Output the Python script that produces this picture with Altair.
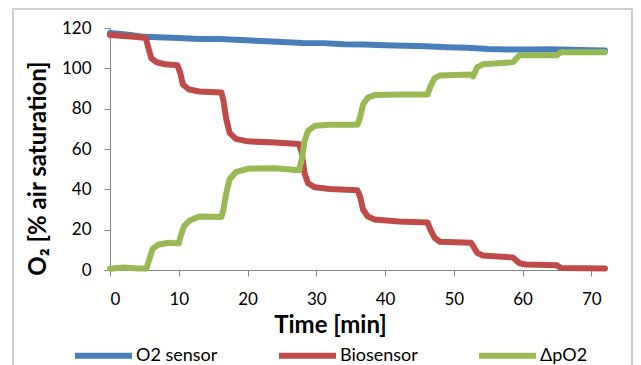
import altair as alt
import pandas as pd

# O2 sensor (blue)
o2_t = [0, 1.5, 3, 5, 8, 10, 13, 16, 19, 22, 25, 28, 31, 34, 37, 40, 43, 46, 49, 52, 55, 58, 61, 64, 67, 70, 72]
o2_v = [117.5, 117, 116.5, 115.6, 115.3, 115, 114.6, 114.5, 114, 113.5, 113, 112.6, 112.5, 112, 111.8, 111.5,
        111.2, 111, 110.5, 110.2, 109.6, 109.3, 109.4, 109.5, 109.2, 109, 108.8]

# Biosensor (red)
bio_t = [0, 2, 4, 5.2, 5.6, 6.0, 6.8, 8, 9.8, 10.2, 10.6, 11.5, 13, 16.2, 16.5, 16.9, 17.4, 18.3, 20, 24, 27.5,
         27.9, 28.3, 28.8, 29.8, 32, 36, 36.4, 36.8, 37.5, 38.5, 42, 46.2, 46.6, 47.2, 48, 52.5, 52.8, 53.4, 54.2,
         58.6, 59, 59.6, 60.5, 65, 65.6, 72]
bio_v = [116.5, 116, 115.5, 115, 110, 105, 103, 102, 101.5, 98, 92, 89.5, 88.5, 88, 84, 75, 68, 65, 63.8, 63.2, 62.5,
         58, 48, 43, 41, 40.2, 39.5, 36, 30, 26.5, 25, 24, 23.5, 20, 16, 14, 13.5, 12, 8.5, 7.2,
         6.2, 5, 3.3, 2.7, 2.3, 1, 0.8]

# Delta pO2 (green)
dp_t = [0, 2, 4, 5.3, 5.7, 6.2, 7, 8.5, 10, 10.3, 10.8, 11.6, 13, 16.2, 16.5, 16.9, 17.4, 18.3, 20, 24, 27.5,
        27.9, 28.3, 28.8, 29.8, 32, 36, 36.4, 36.8, 37.5, 38.5, 42, 46.2, 46.6, 47.2, 48, 52.5, 52.8, 53.4, 54.2,
        58.6, 59, 59.6, 60.5, 65, 65.6, 72]
dp_v = [0.6, 1.2, 0.8, 0.8, 5, 10.5, 12.5, 13.5, 13.2, 17, 22, 24.5, 26.5, 26.3, 30, 38, 45, 48.5, 50.2, 50.5, 49.5,
        55, 64, 69, 71.5, 72, 72, 76, 82, 85.5, 86.8, 87, 87, 91, 95, 96.5, 97, 96, 100.5, 102,
        103, 104.5, 106.5, 106.5, 106.5, 108, 108]

series = ["O2 sensor", "Biosensor", "ΔpO2"]
colors = ["#4A7EBB", "#BE4B48", "#98B954"]
x_ticks = [0, 10, 20, 30, 40, 50, 60, 70]
y_ticks = [0, 20, 40, 60, 80, 100, 120]

rows = []
for name, ts, vs in zip(series, [o2_t, bio_t, dp_t], [o2_v, bio_v, dp_v]):
    for i, (t, v) in enumerate(zip(ts, vs)):
        rows.append({"series": name, "t": t, "v": v, "i": i})
df = pd.DataFrame(rows)

FONT = "Lato"
AX = "#868686"

lines = alt.Chart(df).mark_line(strokeWidth=6, strokeCap="round", strokeJoin="round").encode(
    x=alt.X("t:Q", scale=alt.Scale(domain=[0, 72], nice=False),
            axis=alt.Axis(values=x_ticks, grid=False, domainColor=AX, tickColor=AX, tickSize=6,
                          labelFont=FONT, labelFontSize=17, labelColor="black", labelPadding=15,
                          title="Time [min]", titleFont=FONT, titleFontSize=24, titleFontWeight="bold",
                          titleColor="black", titleX=220, titleY=55, titleBaseline="middle")),
    y=alt.Y("v:Q", scale=alt.Scale(domain=[0, 120], nice=False),
            axis=alt.Axis(values=y_ticks, grid=False, domainColor=AX, tickColor=AX, tickSize=6,
                          labelFont=FONT, labelFontSize=17, labelColor="black", labelPadding=13,
                          title="O₂ [% air saturation]", titleFont=FONT, titleFontSize=24,
                          titleFontWeight="bold", titleColor="black", titleAngle=270,
                          titleX=-72, titleY=140, titleAlign="center", titleBaseline="middle")),
    color=alt.Color("series:N", scale=alt.Scale(domain=series, range=colors),
                    legend=alt.Legend(title=None, orient="none", direction="horizontal",
                                      legendX=-38, legendY=296, symbolType="stroke",
                                      symbolSize=3249, symbolStrokeWidth=6, labelFont=FONT,
                                      labelFontSize=18, labelColor="black", labelOffset=1,
                                      columnPadding=49)),
    order=alt.Order("i:Q"),
    detail="series:N",
)

border = alt.Chart(pd.DataFrame({"a": [0]})).mark_rect(filled=False, stroke="#BFBFBF", strokeWidth=1.5).encode(
    x=alt.value(-97), x2=alt.value(522), y=alt.value(-19), y2=alt.value(400)
)

chart = alt.layer(border, lines).properties(
    width=495, height=242,
    autosize=alt.AutoSizeParams(type="none"),
    padding={"left": 102, "top": 20, "right": 28, "bottom": 95},
).configure_view(stroke=None)

chart.save("out.html", embed_options={"renderer": "svg", "actions": False})
